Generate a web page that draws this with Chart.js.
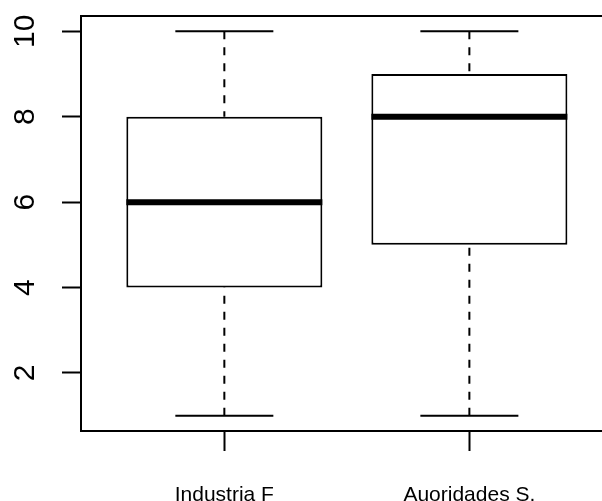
<!DOCTYPE html>
<html><head><meta charset="utf-8">
<script src="https://cdn.jsdelivr.net/npm/chart.js@4"></script>
<style>html,body{margin:0;padding:0;overflow:hidden;background:#fff}canvas{display:block}</style>
</head><body>
<canvas id="c" width="640" height="501"></canvas>
<script>
const categories = ['Industria F', 'Auoridades S.'];
const positions = [1, 2];
const mins = [1, 1];
const q1s = [4, 5];
const medians = [6, 8];
const q3s = [8, 9];
const maxs = [10, 10];
const yTicks = [2, 4, 6, 8, 10];

function segs(list) {
  const out = [];
  list.forEach((pair, i) => {
    if (i > 0) out.push({x: (positions[i - 1] + positions[i]) / 2, y: null});
    out.push(pair[0], pair[1]);
  });
  return out;
}
const upperWhiskers = segs(positions.map((x, i) => [{x, y: maxs[i]}, {x, y: q3s[i]}]));
const lowerWhiskers = segs(positions.map((x, i) => [{x, y: mins[i]}, {x, y: q1s[i]}]));
const upperCaps = segs(positions.map((x, i) => [{x: x - 0.2, y: maxs[i]}, {x: x + 0.2, y: maxs[i]}]));
const lowerCaps = segs(positions.map((x, i) => [{x: x - 0.2, y: mins[i]}, {x: x + 0.2, y: mins[i]}]));
const medianLines = segs(positions.map((x, i) => [{x: x - 0.4, y: medians[i]}, {x: x + 0.4, y: medians[i]}]));

const lineDs = (data, width, dash, order) => ({
  type: 'line', data, borderColor: '#000', borderWidth: width, borderDash: dash,
  pointRadius: 0, tension: 0, spanGaps: false, fill: false, order, borderCapStyle: 'butt'
});

const frame = {
  id: 'frame',
  afterDraw(chart) {
    const {ctx, chartArea: a} = chart;
    ctx.save();
    ctx.strokeStyle = '#000';
    ctx.lineWidth = 2;
    ctx.strokeRect(a.left, a.top, a.right - a.left, a.bottom - a.top);
    ctx.restore();
  }
};

const FONT = "'Liberation Sans', Arial, Helvetica, sans-serif";

new Chart(document.getElementById('c'), {
  type: 'bar',
  data: {
    datasets: [
      {
        type: 'bar',
        data: positions.map((x, i) => ({x, y: [q1s[i], q3s[i]]})),
        backgroundColor: '#fff', borderColor: '#000', borderWidth: 2, borderSkipped: false,
        barPercentage: 0.8, categoryPercentage: 1, order: 5
      },
      lineDs(upperWhiskers, 2, [8, 8], 4),
      lineDs(lowerWhiskers, 2, [8, 8], 4),
      lineDs(upperCaps, 2, [], 3),
      lineDs(lowerCaps, 2, [], 3),
      lineDs(medianLines, 6, [], 1)
    ]
  },
  options: {
    responsive: false,
    animation: false,
    devicePixelRatio: 1,
    layout: {padding: {top: 16, right: 29, left: 0, bottom: 0}},
    plugins: {legend: {display: false}, tooltip: {enabled: false}},
    scales: {
      x: {
        type: 'linear', min: 0.415, max: 2.578, offset: false,
        afterBuildTicks: s => { s.ticks = positions.map(v => ({value: v})); },
        afterFit: s => { s.height = 70; s.paddingLeft = 0; s.paddingRight = 0; },
        ticks: {
          callback: (v, i) => categories[i],
          font: {family: FONT, size: 21}, color: '#000', padding: 32,
          maxRotation: 0, minRotation: 0, autoSkip: false
        },
        grid: {offset: false, drawOnChartArea: false, tickLength: 20, tickWidth: 2, tickColor: '#000'},
        border: {display: false}
      },
      y: {
        type: 'linear', min: 0.64, max: 10.36,
        afterBuildTicks: s => { s.ticks = yTicks.map(v => ({value: v})); },
        afterFit: s => { s.width = 81; s.paddingTop = 0; s.paddingBottom = 0; },
        ticks: {
          font: {family: FONT, size: 30}, color: '#000', padding: 20,
          minRotation: 90, maxRotation: 90, crossAlign: 'center'
        },
        grid: {drawOnChartArea: false, tickLength: 19, tickWidth: 2, tickColor: '#000'},
        border: {display: false}
      }
    }
  },
  plugins: [frame]
});
</script>
</body></html>
